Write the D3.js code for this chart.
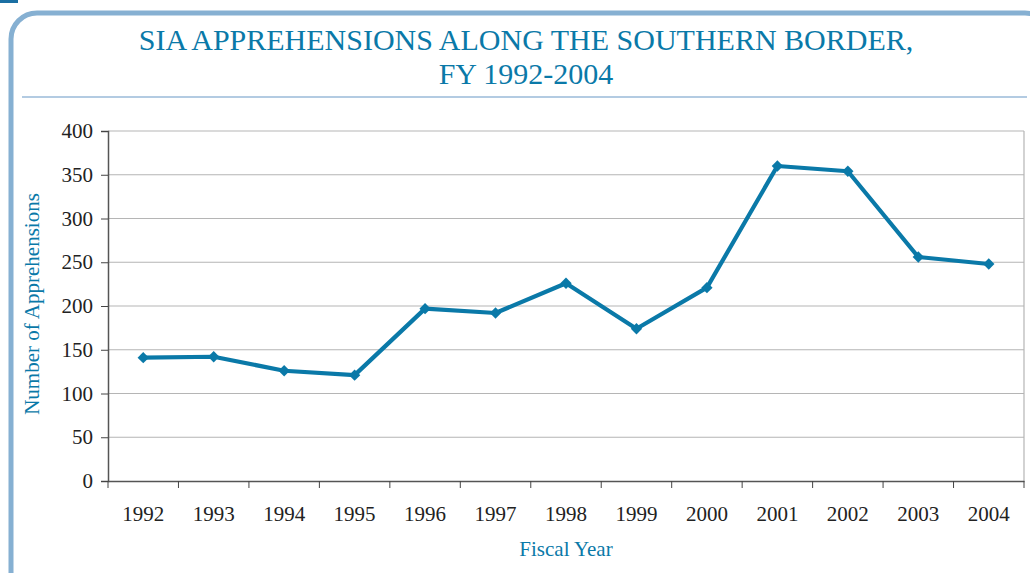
<!DOCTYPE html>
<html>
<head>
<meta charset="utf-8">
<script src="https://cdn.jsdelivr.net/npm/d3@7"></script>
<style>
  body { margin: 0; background: #fff; }
</style>
</head>
<body>
<div id="chart"></div>
<script>

// chart data
var years = ['1992','1993','1994','1995','1996','1997','1998','1999','2000','2001','2002','2003','2004'];
var apprehensions = [141, 142, 126, 121, 197, 192, 226, 174, 221, 360, 354, 256, 248];
var yTicks = [0, 50, 100, 150, 200, 250, 300, 350, 400];

var width = 1030,
    height = 573;

var margin = {top: 131, right: 6, bottom: 92, left: 108};

var blue = '#0a79a8';

var svg = d3.select('#chart')
  .append('svg')
  .attr('width', width)
  .attr('height', height);

// frame round the figure
svg.append('rect')
  .attr('x', 11)
  .attr('y', 13)
  .attr('width', 1040)
  .attr('height', 600)
  .attr('rx', 26)
  .style('fill', 'none')
  .style('stroke', '#86b0d2')
  .style('stroke-width', 5);

// little cut off mark at the top left
svg.append('rect')
  .attr('x', 0)
  .attr('y', 0)
  .attr('width', 18)
  .attr('height', 3)
  .style('fill', '#1b6fa3');

// title
var title = svg.append('text')
  .attr('text-anchor', 'middle')
  .style('font-family', 'Liberation Serif, serif')
  .style('font-size', '30px')
  .style('fill', blue);

title.append('tspan').attr('x', 526).attr('y', 50).text('SIA APPREHENSIONS ALONG THE SOUTHERN BORDER,');
title.append('tspan').attr('x', 526).attr('y', 84).text('FY 1992-2004');

// rule under the title
svg.append('line')
  .attr('x1', 22).attr('x2', 1027)
  .attr('y1', 97).attr('y2', 97)
  .style('stroke', '#b3cbe2')
  .style('stroke-width', 2);

var plotW = width - margin.left - margin.right,
    plotH = height - margin.top - margin.bottom;

var x = d3.scaleBand().domain(years).range([0, plotW]),
    y = d3.scaleLinear().domain([0, 400]).range([plotH, 0]);

var g = svg.append('g')
  .attr('transform', 'translate(' + margin.left + ',' + margin.top + ')');

// gridlines
g.selectAll('.grid')
  .data(yTicks.slice(1))
  .enter()
  .append('line')
  .attr('class', 'grid')
  .attr('x1', 0).attr('x2', plotW)
  .attr('y1', function(d) { return y(d); })
  .attr('y2', function(d) { return y(d); })
  .style('stroke', '#b5b5b5')
  .style('stroke-width', 1.2);

// right border of plot
g.append('line')
  .attr('x1', plotW).attr('x2', plotW)
  .attr('y1', 0).attr('y2', plotH)
  .style('stroke', '#b5b5b5')
  .style('stroke-width', 1.2);

// y axis
var yAxis = g.append('g')
  .call(d3.axisLeft(y).tickValues(yTicks).tickSize(7).tickPadding(8));

// x axis, ticks on band edges
var xAxis = g.append('g')
  .attr('transform', 'translate(0,' + plotH + ')')
  .call(d3.axisBottom(x).tickSize(0).tickPadding(25));

xAxis.selectAll('.edge')
  .data(d3.range(years.length + 1))
  .enter()
  .append('line')
  .attr('class', 'edge')
  .attr('x1', function(i) { return i * x.step(); })
  .attr('x2', function(i) { return i * x.step(); })
  .attr('y1', 0).attr('y2', 7)
  .style('stroke', '#444');

[yAxis, xAxis].forEach(function(a) {
  a.select('.domain').style('stroke', '#555').style('stroke-width', 1.5);
  a.selectAll('.tick line').style('stroke', '#444');
  a.selectAll('text')
    .style('font-family', 'Liberation Serif, serif')
    .style('font-size', '21px')
    .style('fill', '#222');
});

// line
var line = d3.line()
  .x(function(d, i) { return x(years[i]) + x.bandwidth() / 2; })
  .y(function(d) { return y(d); });

g.append('path')
  .datum(apprehensions)
  .attr('d', line)
  .style('fill', 'none')
  .style('stroke', blue)
  .style('stroke-width', 4.2)
  .style('stroke-linejoin', 'round');

// square diamonds
g.selectAll('.dot')
  .data(apprehensions)
  .enter()
  .append('path')
  .attr('class', 'dot')
  .attr('d', d3.symbol().type(d3.symbolSquare).size(64))
  .attr('transform', function(d, i) {
    return 'translate(' + (x(years[i]) + x.bandwidth() / 2) + ',' + y(d) + ') rotate(45)';
  })
  .style('fill', blue);

// axis titles
svg.append('text')
  .attr('transform', 'translate(39,' + (margin.top + plotH / 2 - 2) + ') rotate(-90)')
  .attr('text-anchor', 'middle')
  .style('font-family', 'Liberation Serif, serif')
  .style('font-size', '21px')
  .style('fill', blue)
  .text('Number of Apprehensions');

svg.append('text')
  .attr('x', margin.left + plotW / 2)
  .attr('y', 556)
  .attr('text-anchor', 'middle')
  .style('font-family', 'Liberation Serif, serif')
  .style('font-size', '21px')
  .style('fill', blue)
  .text('Fiscal Year');

</script>
</body>
</html>
